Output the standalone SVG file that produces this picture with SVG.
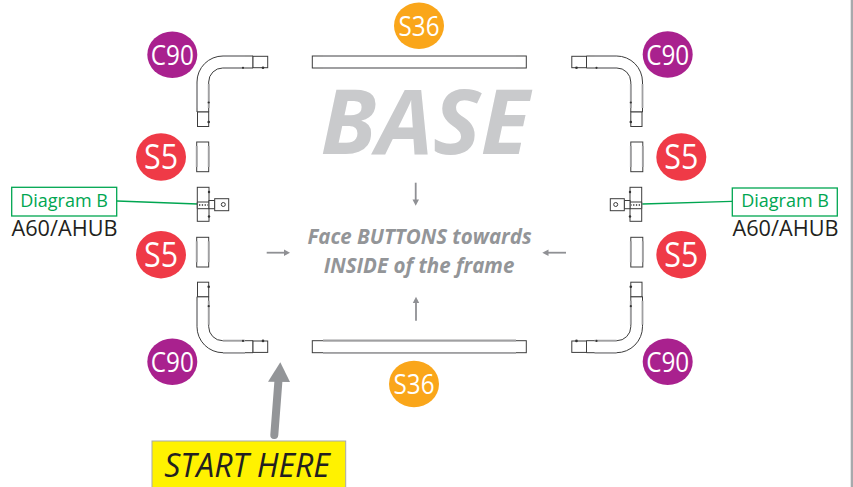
<svg xmlns="http://www.w3.org/2000/svg" width="853" height="487" viewBox="0 0 853 487">
<style>
.t{font-family:"Open Sans","Noto Sans",sans-serif}
.p{fill:#fff;stroke:#3c3c3c;stroke-width:1}
.e{fill:none;stroke:#a0a0a2;stroke-width:1.800}
.w{fill:#fff;text-anchor:middle;font-size:28px}
.s{fill:#fff;text-anchor:middle;font-size:34px}
.d{fill:#00a651;text-anchor:middle;font-size:18px}
.a{fill:#231f20;text-anchor:middle;font-size:21.700px}
.i{fill:#939598;text-anchor:middle;font-size:20.500px;font-weight:700;font-style:italic}
.ar{stroke:#8f9094;stroke-width:1.800;fill:none}
.ah{fill:#8f9094}
.dot{fill:#333}
</style>
<defs>
<g id="elbow">
<path class="p" d="M253 56H223A26 26 0 0 0 197 82V112H208.700V82A14 14 0 0 1 222.700 68H253Z"/>
<path class="e" d="M223 55.800H245M223 68H245M197 84V108M208.700 84V108"/>
<rect class="p" x="253" y="56.300" width="14.700" height="11.400"/>
<rect class="p" x="197.500" y="112" width="11.200" height="14.500"/>
<circle class="dot" cx="208.700" cy="102.500" r="1.100"/><circle class="dot" cx="208.700" cy="122" r="1.300"/>
<circle class="dot" cx="243" cy="67.800" r="1.100"/><circle class="dot" cx="263" cy="67.800" r="1.300"/>
</g>
<g id="hub">
<rect class="p" x="197.300" y="187.300" width="11.700" height="34"/>
<path class="p" d="M197.300 202H209V208.700H197.300Z"/>
<rect class="p" x="209" y="200.500" width="5.700" height="8.200"/>
<rect class="p" x="214.700" y="198.700" width="14" height="12"/>
<circle cx="223.300" cy="204.500" r="2" fill="#fff" stroke="#3c3c3c"/>
<path d="M199 205H208" stroke="#333" stroke-width="1.300" stroke-dasharray="1.300 1.500"/>
<circle class="dot" cx="209" cy="192" r="1.200"/><circle class="dot" cx="209" cy="216.500" r="1.200"/>
</g>
<g id="stub">
<rect class="p" x="196.700" y="142" width="12" height="29.700"/>
<path class="e" d="M196.700 146V167M208.700 146V167"/>
</g>
</defs>
<rect width="853" height="487" fill="#fff"/>
<rect x="850.700" y="0" width="2.300" height="487" fill="#a7a9ac"/>
<g id="base-label"><text class="t" x="425" y="154" font-size="90" font-weight="700" font-style="italic" fill="#c9cacc" text-anchor="middle">BASE</text></g>
<g id="instructions">
<text class="t i" x="419.500" y="244">Face BUTTONS towards</text>
<text class="t i" x="419" y="273">INSIDE of the frame</text>
</g>
<g id="connectors">
<path class="ar" d="M415.700 182.700V200"/><path class="ah" d="M412.500 199.500H419L415.700 205.700Z"/>
<path class="ar" d="M416 320.700V303"/><path class="ah" d="M412.800 303H419.200L416 296.700Z"/>
<path class="ar" d="M266.700 252.700H285"/><path class="ah" d="M284 249.500V255.900L290 252.700Z"/>
<path class="ar" d="M566 252.700H548"/><path class="ah" d="M548.500 249.500V255.900L542.300 252.700Z"/>
<path d="M117 201L197.500 204" stroke="#00a651" stroke-width="1.300" fill="none"/>
<path d="M732 201.300L642.300 204" stroke="#00a651" stroke-width="1.300" fill="none"/>
<path d="M274.300 435L278.500 380" stroke="#939598" stroke-width="8" stroke-linecap="round" fill="none"/>
<path d="M268 381.700L280.300 362.300L290 382Z" fill="#939598"/>
</g>
<g id="elbow-tl"><use href="#elbow"/></g>
<g id="elbow-tr"><use href="#elbow" transform="matrix(-1 0 0 1 839.500 0)"/></g>
<g id="elbow-bl"><use href="#elbow" transform="matrix(1 0 0 -1 0 408.700)"/></g>
<g id="elbow-br"><use href="#elbow" transform="matrix(-1 0 0 -1 839.500 408.700)"/></g>
<g id="s36-top-bar"><rect class="p" x="312.300" y="56" width="214" height="12"/><path class="e" d="M323 55.800H516M323 68.200H516"/></g>
<g id="s36-bottom-bar"><rect class="p" x="312.300" y="340.700" width="214" height="12"/><path class="e" d="M323 340.500H516M323 352.900H516"/></g>
<g id="s5-tl"><use href="#stub"/></g>
<g id="s5-bl"><use href="#stub" transform="translate(0 95.300)"/></g>
<g id="s5-tr"><use href="#stub" transform="translate(434.100 0)"/></g>
<g id="s5-br"><use href="#stub" transform="translate(434.100 95.300)"/></g>
<g id="hub-left"><use href="#hub"/></g>
<g id="hub-right"><use href="#hub" transform="matrix(-1 0 0 1 839 0)"/></g>
<g id="badge-c90-tl"><ellipse cx="172.300" cy="54.700" rx="25" ry="23.300" fill="#a9218e"/><text class="t w" x="172.300" y="64.500" textLength="43" lengthAdjust="spacingAndGlyphs">C90</text></g>
<g id="badge-c90-tr"><ellipse cx="667.700" cy="54.500" rx="25" ry="23.300" fill="#a9218e"/><text class="t w" x="667.700" y="64.500" textLength="43" lengthAdjust="spacingAndGlyphs">C90</text></g>
<g id="badge-c90-bl"><ellipse cx="172.300" cy="361.700" rx="25" ry="23.300" fill="#a9218e"/><text class="t w" x="172.300" y="371.500" textLength="43" lengthAdjust="spacingAndGlyphs">C90</text></g>
<g id="badge-c90-br"><ellipse cx="667.700" cy="361.700" rx="25" ry="23.300" fill="#a9218e"/><text class="t w" x="667.700" y="371.500" textLength="43" lengthAdjust="spacingAndGlyphs">C90</text></g>
<g id="badge-s5-tl"><ellipse cx="161" cy="157" rx="25" ry="23.700" fill="#ef3a47"/><text class="t s" x="161" y="169" textLength="34" lengthAdjust="spacingAndGlyphs">S5</text></g>
<g id="badge-s5-bl"><ellipse cx="161" cy="254.700" rx="25" ry="23.700" fill="#ef3a47"/><text class="t s" x="161" y="267" textLength="34" lengthAdjust="spacingAndGlyphs">S5</text></g>
<g id="badge-s5-tr"><ellipse cx="681.300" cy="157" rx="25" ry="23.700" fill="#ef3a47"/><text class="t s" x="681.300" y="169" textLength="34" lengthAdjust="spacingAndGlyphs">S5</text></g>
<g id="badge-s5-br"><ellipse cx="681.300" cy="254.700" rx="25" ry="23.700" fill="#ef3a47"/><text class="t s" x="681.300" y="267" textLength="34" lengthAdjust="spacingAndGlyphs">S5</text></g>
<g id="badge-s36-top"><ellipse cx="419" cy="25.700" rx="25" ry="23.300" fill="#faa61a"/><text class="t w" x="419" y="35.500" textLength="41" lengthAdjust="spacingAndGlyphs">S36</text></g>
<g id="badge-s36-bottom"><ellipse cx="414" cy="384" rx="25" ry="23.300" fill="#faa61a"/><text class="t w" x="414" y="393.500" textLength="41" lengthAdjust="spacingAndGlyphs">S36</text></g>
<g id="diagram-b-left"><rect x="11.700" y="187.300" width="105" height="28.700" fill="#fff" stroke="#00a651" stroke-width="1.300"/><text class="t d" x="64" y="207">Diagram B</text><text class="t a" x="64.500" y="236">A60/AHUB</text></g>
<g id="diagram-b-right"><rect x="732.300" y="188" width="105" height="28" fill="#fff" stroke="#00a651" stroke-width="1.300"/><text class="t d" x="785" y="207">Diagram B</text><text class="t a" x="785.500" y="236">A60/AHUB</text></g>
<g id="start-here"><rect x="152" y="441" width="193.700" height="50" fill="#fff200" stroke="#a7a9ac" stroke-width="1"/><text class="t" x="247" y="477" font-size="32" font-style="italic" fill="#231f20" text-anchor="middle">START HERE</text></g>
</svg>
